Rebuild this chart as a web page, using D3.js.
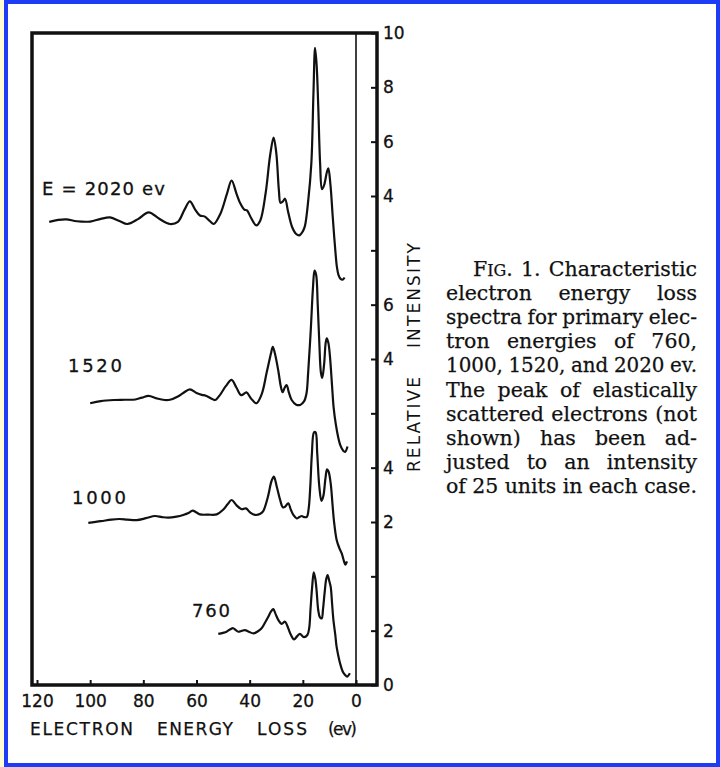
<!DOCTYPE html>
<html>
<head>
<meta charset="utf-8">
<script src="https://cdn.jsdelivr.net/npm/d3@7"></script>
<style>
  body { margin: 0; background: #fff; }
</style>
</head>
<body>
<div id="chart"></div>
<script>
// spectra: [energy loss (ev), relative intensity]
const spec2020 = [[115.4,3.05],[112,3.12],[109,3.14],[105,3.07],[100,3.06],[96,3.16],[92.5,3.21],[89,3.08],[86,2.97],[82,3.15],[78,3.40],[74,3.16],[70,2.97],[67,3.05],[64.5,3.5],[62.5,3.80],[60.5,3.5],[58.7,3.28],[57,3.25],[55,3.08],[53.5,2.97],[51,3.35],[48.5,4.1],[46.8,4.57],[45,4.1],[43.5,3.72],[42,3.5],[41,3.47],[39.5,3.2],[37.5,2.92],[36,3.1],[34,4.1],[32.3,5.5],[31,6.15],[30,5.6],[29,4.2],[28.4,3.75],[27.5,3.8],[26.7,3.9],[25.5,3.4],[24,2.85],[22.5,2.6],[21.3,2.55],[20,2.7],[19.2,2.9],[18,3.8],[16.8,5.2],[16.0,7.8],[15.4,9.45],[14.8,8.8],[14.2,7.3],[13.5,5.2],[12.8,4.25],[12,4.4],[10.9,4.9],[10.4,5.02],[9.6,4.4],[8.8,3.3],[8.2,2.5],[7.7,1.9],[7.2,1.4],[6.6,1.1],[5.8,0.95],[5.0,0.92],[4.3,1.0]];
const spec1520 = [[100,2.37],[96,2.45],[91,2.49],[87,2.5],[83,2.51],[80.5,2.58],[78,2.64],[75,2.55],[72,2.49],[70,2.5],[67,2.62],[65,2.75],[62.5,2.88],[60,2.75],[58,2.68],[56.5,2.65],[54.5,2.55],[53,2.49],[51,2.7],[49,3.0],[46.8,3.23],[45,2.95],[43.2,2.67],[41.2,2.77],[39.5,2.55],[37.5,2.37],[35.5,2.7],[33.6,3.5],[32,4.2],[31.3,4.45],[30.5,4.2],[29.2,3.55],[28.2,2.95],[27.6,2.78],[26.8,2.95],[26.1,3.04],[25.2,2.75],[24.2,2.49],[22.5,2.32],[21,2.31],[19.5,2.45],[18.6,2.75],[18,3.5],[17,5.1],[16.2,6.6],[15.6,7.25],[15,7.1],[14.4,6.0],[13.8,4.6],[13.2,3.5],[12.7,3.3],[12,3.8],[11.4,4.6],[11,4.76],[10.4,4.6],[9.8,4.1],[9.0,3.0],[8.4,2.2],[7.6,1.6],[6.7,1.12],[5.8,0.8],[4.8,0.62],[4.1,0.58],[3.2,0.78]];
const spec1000 = [[100.7,1.97],[96,2.03],[92,2.09],[89,2.11],[86,2.09],[82.5,2.07],[79,2.14],[75.6,2.22],[73,2.18],[70.6,2.16],[67.5,2.2],[65,2.26],[63,2.33],[61.5,2.42],[60,2.35],[58.7,2.28],[55.5,2.27],[52.4,2.28],[50,2.45],[48.3,2.65],[46.8,2.81],[45,2.62],[43,2.47],[41.4,2.5],[39.8,2.35],[38,2.26],[36,2.3],[34.9,2.4],[33.2,2.9],[31.8,3.5],[30.9,3.67],[29.8,3.3],[28.5,2.8],[27.6,2.55],[26.8,2.55],[25.5,2.69],[24.5,2.45],[23.5,2.25],[22.3,2.13],[21.3,2.18],[20.4,2.22],[19.5,2.18],[18.5,2.19],[17.8,2.5],[17.2,3.3],[16.6,4.5],[15.8,5.3],[15.2,5.3],[14.6,4.55],[13.8,3.3],[13.0,2.78],[12.3,2.95],[11.5,3.6],[10.9,3.94],[10.3,3.85],[9.5,3.4],[8.8,2.6],[8.3,2.05],[7.3,1.35],[6.3,1.05],[5.4,0.85],[4.5,0.55],[4.0,0.43],[3.4,0.55]];
const spec760 = [[51.8,1.88],[50,1.92],[48.7,1.96],[47.3,2.05],[46.2,2.09],[45.2,2.02],[44.3,1.96],[43,1.99],[41.8,2.02],[40.3,1.96],[38.6,1.9],[37,1.97],[35.5,2.09],[34.2,2.3],[33,2.51],[32,2.7],[31.1,2.79],[30.2,2.6],[29.2,2.39],[28,2.25],[26.7,2.33],[25.5,2.09],[24.5,1.85],[23.3,1.68],[22.1,1.8],[21.1,1.88],[19.6,1.76],[18.3,1.84],[17.6,2.1],[17.1,2.8],[16.5,3.6],[15.9,4.15],[15.3,3.9],[14.8,3.45],[14.2,2.75],[13.6,2.5],[12.9,2.45],[12.4,2.8],[11.8,3.4],[11.2,3.9],[10.7,4.05],[10.1,3.85],[9.5,3.6],[9.0,3.0],[8.5,2.4],[7.8,1.85],[7.3,1.41],[6.6,1.05],[6.0,0.8],[5.0,0.5],[4.1,0.37],[3.3,0.31],[2.3,0.43]];

const spectra = [spec2020, spec1520, spec1000, spec760];
const energyLabels = ["E = 2020 ev", "1520", "1000", "760"];
const offsets = [14, 8, 4, 0];   // vertical shift of each trace on the common scale

const xTicks = [120, 100, 80, 60, 40, 20, 0];
const yTicks = [0, 2, 4, 6, 8, 10, 12, 14, 16, 18, 20, 22, 24];
const yTickLabels = ["0", "2", "", "2", "4", "", "4", "6", "", "4", "6", "8", "10"];

const xTitle = ["ELECTRON", "ENERGY", "LOSS", "(ev)"];
const yTitle = ["RELATIVE", "INTENSITY"];

const caption = [
  "Fig. 1. Characteristic",
  "electron energy loss",
  "spectra for primary elec-",
  "tron energies of 760,",
  "1000, 1520, and 2020 ev.",
  "The peak of elastically",
  "scattered electrons (not",
  "shown) has been ad-",
  "justed to an intensity",
  "of 25 units in each case."
];

const W = 720, H = 767;
const sans = "'DejaVu Sans', sans-serif";
const serif = "'DejaVu Serif', serif";

const svg = d3.select("#chart").append("svg")
  .attr("width", W).attr("height", H);

// page + blue frame
svg.append("rect").attr("width", W).attr("height", H).attr("fill", "#fdfcd2");
svg.append("rect")
  .attr("x", 6).attr("y", 2).attr("width", 712).attr("height", 763)
  .attr("fill", "#fff").attr("stroke", "#1e3cf5").attr("stroke-width", 4);

const pLeft = 32, pRight = 377, pTop = 33, pBottom = 685;

const x = d3.scaleLinear().domain([120, 0]).range([37, 356]);
const y = d3.scaleLinear().domain([0, 24]).range([pBottom, pTop]);

// axes
const xAxis = svg.append("g")
  .attr("transform", "translate(0," + pBottom + ")")
  .call(d3.axisBottom(x).tickValues(xTicks).tickSizeInner(-5).tickSizeOuter(0).tickPadding(10)
    .tickFormat(d3.format("d")));
xAxis.select(".domain").remove();

const yAxis = svg.append("g")
  .attr("transform", "translate(" + pRight + ",0)")
  .call(d3.axisRight(y).tickValues(yTicks).tickSizeInner(-6).tickSizeOuter(0).tickPadding(6)
    .tickFormat(function(d, i) { return yTickLabels[i]; }));
yAxis.select(".domain").remove();

svg.selectAll(".tick line").attr("stroke", "#111").attr("stroke-width", 2);
svg.selectAll(".tick text")
  .attr("fill", "#111").attr("stroke", "#111").attr("stroke-width", 0.3)
  .style("font-family", sans).style("font-size", "17px");

// frame of the plot
svg.append("path")
  .attr("d", "M" + pRight + "," + pTop + "H" + pLeft + "V" + pBottom + "H" + pRight + "Z")
  .attr("fill", "none").attr("stroke", "#111").attr("stroke-width", 3.5)
  .attr("stroke-linejoin", "miter");

// zero-loss line
svg.append("line")
  .attr("x1", x(0)).attr("x2", x(0)).attr("y1", pTop).attr("y2", pBottom)
  .attr("stroke", "#111").attr("stroke-width", 1.6);

// traces
spectra.forEach(function(s, i) {
  const line = d3.line()
    .x(function(d) { return x(d[0]); })
    .y(function(d) { return y(d[1] + offsets[i]); })
    .curve(d3.curveCatmullRom.alpha(0.5));
  svg.append("path")
    .datum(s)
    .attr("d", line)
    .attr("fill", "none")
    .attr("stroke", "#111")
    .attr("stroke-width", 2.2)
    .attr("stroke-linejoin", "round");
});

// trace labels
const labelPos = [[42, 195, 123], [68, 372, 54], [72, 504, 54], [192, 617, 38]];
energyLabels.forEach(function(t, i) {
  svg.append("text")
    .attr("x", labelPos[i][0]).attr("y", labelPos[i][1])
    .attr("textLength", labelPos[i][2]).attr("lengthAdjust", "spacing")
    .style("font-family", sans).style("font-size", "18px")
    .attr("fill", "#111").attr("stroke", "#111").attr("stroke-width", 0.3)
    .text(t);
});

// axis titles
const xTitlePos = [[30, 103], [157, 76], [257, 50], [328, 29]];
xTitle.forEach(function(t, i) {
  svg.append("text")
    .attr("x", xTitlePos[i][0]).attr("y", 735)
    .attr("textLength", xTitlePos[i][1]).attr("lengthAdjust", "spacing")
    .style("font-family", sans).style("font-size", "17px")
    .attr("fill", "#111").attr("stroke", "#111").attr("stroke-width", 0.25)
    .text(t);
});

const yT = svg.append("g").attr("transform", "translate(420,472) rotate(-90)");
const yTitlePos = [[0, 95], [124, 105]];
yTitle.forEach(function(t, i) {
  yT.append("text")
    .attr("x", yTitlePos[i][0]).attr("y", 0)
    .attr("textLength", yTitlePos[i][1]).attr("lengthAdjust", "spacing")
    .style("font-family", sans).style("font-size", "17px")
    .attr("fill", "#111")
    .text(t);
});

// caption, justified word by word
const capFs = 20.5, capRight = 697;
caption.forEach(function(lineText, li) {
  const x0 = li === 0 ? 473 : 446;
  const yb = 276 + li * 24.1;
  const g = svg.append("g");
  const words = lineText.split(" ");
  const nodes = words.map(function(w) {
    const t = g.append("text").attr("y", 0)
      .style("font-family", serif).style("font-size", capFs + "px")
      .attr("fill", "#111").attr("stroke", "#111").attr("stroke-width", 0.25);
    if (w === "Fig.") {
      t.append("tspan").text("F");
      t.append("tspan").style("font-size", (capFs * 0.78) + "px").text("IG");
      t.append("tspan").text(".");
    } else {
      t.text(w);
    }
    return t;
  });
  const widths = nodes.map(function(t) { return t.node().getComputedTextLength(); });
  const sum = d3.sum(widths);
  const target = capRight - x0;
  const minGap = capFs * 0.28;
  let gap = (target - sum) / (words.length - 1);
  let s = 1;
  if (gap < minGap) {
    gap = minGap;
    s = target / (sum + minGap * (words.length - 1));
  }
  let cx = 0;
  nodes.forEach(function(t, k) {
    t.attr("x", cx);
    cx += widths[k] + gap;
  });
  g.attr("transform", "translate(" + x0 + "," + yb + ") scale(" + s + ",1)");
});
</script>
</body>
</html>
